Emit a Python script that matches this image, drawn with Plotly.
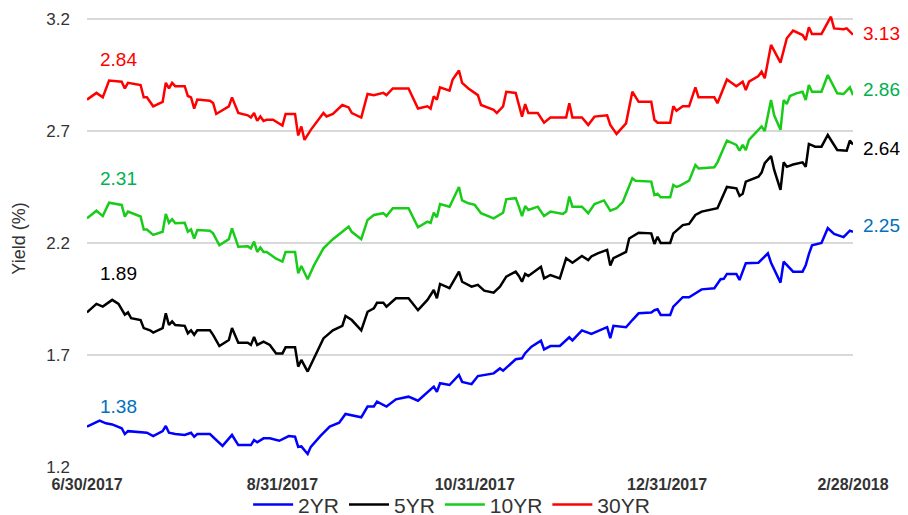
import pandas as pd
import plotly.graph_objects as go

# Treasury yields, 6/30/2017 - 2/28/2018
# x values are days since 6/30/2017, y values are yields in %
start = pd.Timestamp("2017-06-30")

days_2yr = [0, 4, 6, 8, 11, 12, 13, 19, 21, 24, 25, 26, 28, 31, 33, 34, 35, 39, 43, 44, 46, 48, 52, 53, 54, 56, 58,
            61, 64, 66, 67, 68, 70, 71, 74, 77, 80, 82, 84, 87, 89, 91, 92, 95, 98, 102, 105, 109, 110, 111, 112,
            115, 118, 119, 122, 124, 129, 131, 132, 136, 138, 139, 141, 144, 145, 147, 150, 153, 154, 157, 160,
            165, 166, 167, 171, 173, 175, 179, 180, 181, 182, 185, 186, 189, 191, 195, 199, 201, 202, 203, 206,
            207, 208, 209, 213, 216, 217, 220, 221, 224, 227, 228, 229, 230, 233, 235, 237, 240, 242, 243]
yld_2yr = [1.38, 1.407, 1.395, 1.39, 1.373, 1.347, 1.36, 1.353, 1.338, 1.36, 1.383, 1.353, 1.347, 1.343, 1.353,
           1.335, 1.347, 1.347, 1.294, 1.309, 1.343, 1.298, 1.298, 1.32, 1.31, 1.328, 1.328, 1.317, 1.338, 1.335,
           1.29, 1.292, 1.258, 1.29, 1.338, 1.38, 1.398, 1.437, 1.43, 1.422, 1.47, 1.47, 1.492, 1.47, 1.502, 1.514,
           1.496, 1.547, 1.559, 1.536, 1.574, 1.566, 1.611, 1.58, 1.57, 1.606, 1.618, 1.64, 1.63, 1.681, 1.685,
           1.708, 1.737, 1.764, 1.725, 1.74, 1.74, 1.779, 1.765, 1.81, 1.794, 1.824, 1.775, 1.83, 1.824, 1.856,
           1.886, 1.89, 1.90, 1.904, 1.879, 1.879, 1.916, 1.958, 1.958, 1.993, 1.998, 2.038, 2.04, 2.062, 2.062,
           2.035, 2.077, 2.11, 2.112, 2.154, 2.112, 2.023, 2.117, 2.072, 2.072, 2.10, 2.15, 2.19, 2.20, 2.266,
           2.24, 2.226, 2.255, 2.25]

days_5yr = [0, 3, 5, 8, 10, 12, 13, 14, 17, 18, 20, 21, 24, 25, 26, 27, 28, 31, 32, 33, 34, 35, 39, 40, 42, 45,
            46, 48, 51, 52, 53, 54, 56, 58, 60, 62, 63, 66, 67, 68, 70, 72, 75, 78, 81, 82, 84, 87, 89, 91, 92,
            94, 95, 98, 102, 105, 108, 110, 111, 112, 115, 118, 119, 122, 124, 126, 129, 131, 133, 136, 137, 138,
            139, 140, 144, 145, 147, 150, 152, 154, 157, 159, 160, 162, 165, 166, 167, 171, 172, 175, 179, 180,
            181, 182, 185, 186, 187, 189, 191, 193, 195, 200, 203, 206, 207, 208, 209, 213, 214, 215, 217, 218,
            220, 221, 222, 224, 227, 228, 229, 231, 233, 235, 238, 241, 242, 243]
yld_5yr = [1.89, 1.928, 1.916, 1.946, 1.928, 1.88, 1.89, 1.864, 1.856, 1.82, 1.81, 1.80, 1.82, 1.886, 1.834,
           1.85, 1.834, 1.83, 1.797, 1.81, 1.79, 1.81, 1.81, 1.79, 1.74, 1.767, 1.82, 1.755, 1.755, 1.745, 1.78,
           1.745, 1.76, 1.745, 1.707, 1.707, 1.734, 1.734, 1.648, 1.678, 1.626, 1.686, 1.774, 1.81, 1.83, 1.874,
           1.856, 1.81, 1.893, 1.908, 1.933, 1.933, 1.916, 1.953, 1.953, 1.90, 1.946, 1.99, 1.953, 2.017, 1.998,
           2.072, 2.027, 2.005, 2.013, 1.987, 1.978, 2.005, 2.05, 2.072, 2.053, 2.027, 2.062, 2.053, 2.094, 2.042,
           2.057, 2.042, 2.132, 2.112, 2.142, 2.124, 2.14, 2.154, 2.169, 2.10, 2.132, 2.16, 2.22, 2.246, 2.243,
           2.196, 2.228, 2.20, 2.20, 2.243, 2.255, 2.28, 2.285, 2.325, 2.34, 2.355, 2.45, 2.444, 2.41, 2.42,
           2.474, 2.496, 2.514, 2.556, 2.588, 2.526, 2.437, 2.56, 2.54, 2.55, 2.56, 2.54, 2.642, 2.63, 2.63,
           2.682, 2.615, 2.612, 2.657, 2.64]

days_10yr = [0, 3, 5, 7, 11, 12, 13, 17, 18, 19, 21, 24, 25, 26, 27, 28, 31, 32, 33, 34, 35, 39, 40, 42, 45, 46,
             48, 51, 52, 53, 54, 55, 56, 57, 60, 62, 63, 66, 67, 68, 70, 72, 75, 76, 78, 81, 83, 84, 87, 89, 91,
             94, 95, 97, 102, 105, 108, 109, 110, 111, 112, 115, 118, 119, 121, 123, 125, 129, 132, 133, 136,
             137, 138, 139, 140, 143, 145, 147, 151, 152, 153, 154, 157, 159, 161, 164, 166, 168, 170, 173, 174,
             179, 180, 181, 182, 185, 186, 187, 188, 191, 193, 194, 199, 200, 203, 206, 207, 208, 209, 210, 213,
             214, 215, 217, 218, 220, 221, 222, 223, 225, 227, 228, 229, 230, 233, 235, 238, 240, 242, 243]
yld_10yr = [2.31, 2.344, 2.32, 2.38, 2.37, 2.318, 2.34, 2.318, 2.26, 2.26, 2.236, 2.25, 2.33, 2.29, 2.306, 2.288,
            2.29, 2.25, 2.26, 2.22, 2.258, 2.255, 2.243, 2.19, 2.217, 2.265, 2.183, 2.185, 2.176, 2.206, 2.16,
            2.18, 2.16, 2.16, 2.13, 2.117, 2.16, 2.16, 2.065, 2.097, 2.038, 2.10, 2.176, 2.19, 2.217, 2.25, 2.273,
            2.25, 2.217, 2.303, 2.325, 2.333, 2.32, 2.355, 2.355, 2.27, 2.295, 2.29, 2.335, 2.315, 2.374, 2.362,
            2.45, 2.39, 2.377, 2.37, 2.333, 2.31, 2.335, 2.395, 2.40, 2.362, 2.32, 2.365, 2.347, 2.362, 2.32,
            2.34, 2.33, 2.34, 2.407, 2.362, 2.362, 2.333, 2.374, 2.39, 2.344, 2.355, 2.384, 2.489, 2.478, 2.474,
            2.414, 2.42, 2.404, 2.404, 2.459, 2.45, 2.455, 2.478, 2.548, 2.533, 2.538, 2.56, 2.657, 2.638, 2.612,
            2.638, 2.615, 2.66, 2.705, 2.72, 2.70, 2.838, 2.77, 2.705, 2.838, 2.82, 2.856, 2.868, 2.875, 2.838,
            2.905, 2.875, 2.875, 2.95, 2.868, 2.865, 2.895, 2.86]

days_30yr = [0, 3, 5, 7, 11, 12, 13, 17, 18, 19, 21, 24, 25, 26, 27, 28, 31, 32, 33, 34, 35, 39, 40, 41, 45, 46,
             48, 51, 52, 53, 54, 55, 56, 57, 59, 62, 63, 66, 67, 68, 69, 71, 75, 76, 78, 81, 83, 84, 87, 89, 91,
             94, 95, 97, 102, 105, 108, 109, 110, 111, 112, 115, 116, 118, 119, 121, 124, 125, 129, 130, 132,
             133, 136, 137, 138, 139, 140, 143, 145, 147, 151, 152, 153, 154, 157, 159, 161, 165, 166, 168, 171,
             173, 175, 179, 180, 181, 185, 186, 187, 189, 191, 193, 194, 199, 200, 203, 206, 208, 209, 210, 213,
             214, 215, 217, 220, 222, 224, 227, 228, 229, 230, 233, 236, 237, 240, 241, 243]
yld_30yr = [2.84, 2.87, 2.85, 2.925, 2.92, 2.89, 2.915, 2.905, 2.85, 2.85, 2.81, 2.83, 2.915, 2.89, 2.915, 2.90,
            2.90, 2.856, 2.85, 2.80, 2.84, 2.835, 2.825, 2.776, 2.81, 2.85, 2.78, 2.77, 2.76, 2.78, 2.745, 2.765,
            2.745, 2.75, 2.75, 2.724, 2.776, 2.776, 2.68, 2.72, 2.66, 2.705, 2.78, 2.765, 2.776, 2.816, 2.805,
            2.78, 2.76, 2.865, 2.86, 2.87, 2.86, 2.89, 2.89, 2.80, 2.81, 2.80, 2.855, 2.84, 2.895, 2.88, 2.93,
            2.97, 2.915, 2.89, 2.86, 2.816, 2.794, 2.78, 2.81, 2.875, 2.87, 2.816, 2.764, 2.82, 2.78, 2.78, 2.737,
            2.76, 2.76, 2.76, 2.824, 2.76, 2.76, 2.727, 2.764, 2.77, 2.727, 2.687, 2.734, 2.875, 2.83, 2.83, 2.75,
            2.737, 2.737, 2.81, 2.79, 2.81, 2.81, 2.895, 2.85, 2.85, 2.824, 2.93, 2.90, 2.92, 2.883, 2.92, 2.945,
            2.965, 2.935, 3.084, 3.005, 3.114, 3.148, 3.128, 3.106, 3.163, 3.133, 3.133, 3.21, 3.158, 3.154,
            3.158, 3.13]

tick_dates = ["2017-06-30", "2017-08-31", "2017-10-31", "2017-12-31", "2018-02-28"]
tick_text = ["6/30/2017", "8/31/2017", "10/31/2017", "12/31/2017", "2/28/2018"]

# name, days, yields, line colour, label colour, y of start label, y of end label
series = [
    ("2YR", days_2yr, yld_2yr, "#0000FF", "#0070C0", 1.468, 2.276),
    ("5YR", days_5yr, yld_5yr, "#000000", "#000000", 2.066, 2.624),
    ("10YR", days_10yr, yld_10yr, "#19CC19", "#00B050", 2.486, 2.883),
    ("30YR", days_30yr, yld_30yr, "#FF0000", "#FF0000", 3.021, 3.137),
]

fig = go.Figure()
annotations = []
for name, days, vals, color, lab_color, y_start, y_end in series:
    dates = start + pd.to_timedelta(days, unit="D")
    fig.add_trace(go.Scatter(
        x=dates, y=vals, mode="lines", name=name,
        line=dict(color=color, width=2.5),
    ))
    annotations.append(dict(
        x=start + pd.Timedelta(days=10), y=y_start, xref="x", yref="y",
        text=f"{vals[0]:.2f}", showarrow=False,
        font=dict(size=19, color=lab_color),
    ))
    annotations.append(dict(
        x=1.0, y=y_end, xref="paper", yref="y", xanchor="left", xshift=8,
        text=f"{vals[-1]:.2f}", showarrow=False,
        font=dict(size=19, color=lab_color),
    ))

# the page adds an 8px body margin, so the margins here are 8px smaller on the left/top
fig.update_layout(
    width=908, height=515,
    margin=dict(l=79, r=63, t=2, b=56, autoexpand=False),
    paper_bgcolor="white", plot_bgcolor="white",
    font=dict(family="Liberation Sans, Arial, sans-serif", color="#333333"),
    showlegend=True,
    legend=dict(orientation="h", x=0.476, xanchor="center", y=-0.083, yanchor="middle",
                bgcolor="rgba(0,0,0,0)",
                font=dict(size=21, color="#333333"), itemwidth=40),
    annotations=annotations,
    shapes=[dict(type="line", xref="paper", yref="paper", x0=1.069, x1=1.069, y0=-0.2, y1=1.1,
                 line=dict(color="#cccccc", width=1.5))],
)

fig.update_xaxes(
    type="date",
    range=[tick_dates[0], tick_dates[-1]],
    tickvals=tick_dates, ticktext=[f"<b>{t}</b>" for t in tick_text],
    tickfont=dict(size=16, color="#333333"),
    ticklabelstandoff=6,
    showgrid=False, zeroline=False, showline=False, ticks="",
)
fig.update_yaxes(
    range=[1.2, 3.24],
    tickvals=[1.2, 1.7, 2.2, 2.7, 3.2],
    ticktext=["1.2", "1.7", "2.2", "2.7", "3.2"],
    tickfont=dict(size=17, color="#333333"),
    ticklabelstandoff=16,
    showgrid=True, gridcolor="#d9d9d9", gridwidth=1.5,
    zeroline=False, showline=False, ticks="",
    title=dict(text="Yield (%)", font=dict(size=18, color="#333333"), standoff=16),
)

fig.write_html("out.html")
